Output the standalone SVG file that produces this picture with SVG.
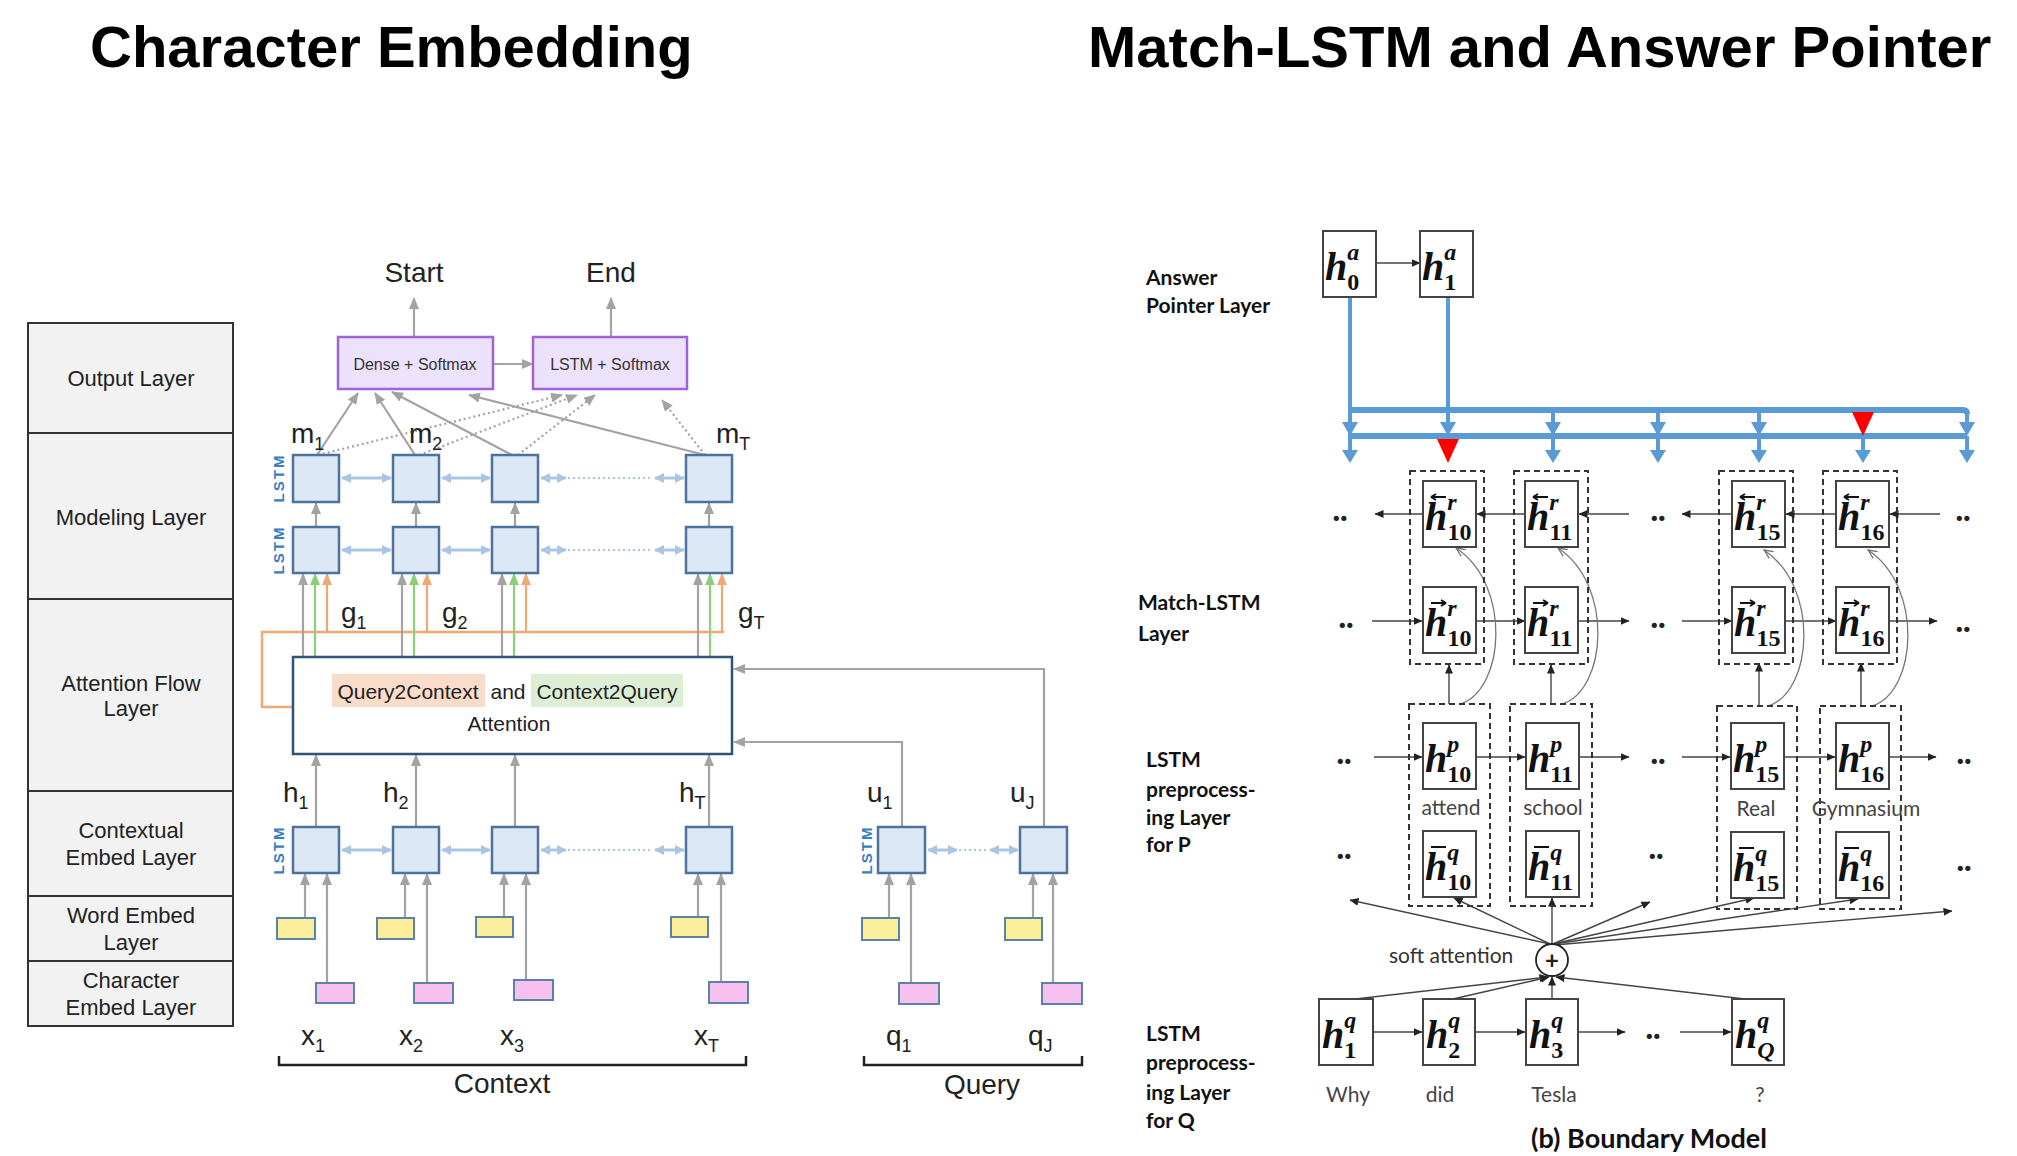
<svg xmlns="http://www.w3.org/2000/svg" width="2017" height="1156" viewBox="0 0 2017 1156">
<defs>
<style>
.title{font-family:"Liberation Sans",Arial,sans-serif;font-weight:bold;font-size:58px;fill:#000}
.lay{fill:#f2f2f2;stroke:#333;stroke-width:2}
.lt{font-family:"Liberation Sans",Arial,sans-serif;font-size:22px;fill:#222;text-anchor:middle}
.lbl{font-family:"Liberation Sans",Arial,sans-serif;font-size:28px;fill:#222}
.sub{font-size:18px}
.lstm{fill:#dce8f6;stroke:#4d739d;stroke-width:2.5}
.lstmt{font-family:"Liberation Sans",Arial,sans-serif;font-size:15px;font-weight:bold;fill:#3a7dc0;letter-spacing:2px;text-anchor:middle}
.sm{fill:#ece2fb;stroke:#a361da;stroke-width:2.5}
.smt{font-family:"Liberation Sans",Arial,sans-serif;font-size:16px;fill:#333;text-anchor:middle}
.yel{fill:#fbee9a;stroke:#5d82a8;stroke-width:2}
.pink{fill:#f8c0ef;stroke:#5d82a8;stroke-width:2}
.ga{stroke:#a3a3a3;stroke-width:2.2;fill:none;marker-end:url(#ag)}
.gd{stroke:#a3a3a3;stroke-width:2.2;fill:none;stroke-dasharray:2 3;marker-end:url(#ag)}
.gn{stroke:#8ccf78;stroke-width:2.2;fill:none;marker-end:url(#agn)}
.or{stroke:#f3a775;stroke-width:2.2;fill:none;marker-end:url(#aor)}
.lb{stroke:#a9c6e4;stroke-width:3;fill:none;marker-start:url(#alb);marker-end:url(#alb)}
.lbd{stroke:#a9c6e4;stroke-width:2;fill:none;stroke-dasharray:2 3}
.att{fill:#fff;stroke:#2f5377;stroke-width:2.5}
.at{font-family:"Liberation Sans",Arial,sans-serif;font-size:21px;fill:#222;text-anchor:middle}
.br{fill:none;stroke:#222;stroke-width:2.5}
.rl{font-family:Lato,"Open Sans",sans-serif;font-weight:bold;font-size:21px;fill:#111}
.rw{font-family:Lato,"Open Sans",sans-serif;font-size:21px;fill:#444;text-anchor:middle}
.bx{fill:#fff;stroke:#444;stroke-width:2}
.dsh{fill:none;stroke:#333;stroke-width:2;stroke-dasharray:6 4}
.mh{font-family:"Liberation Serif","Times New Roman",serif;font-weight:bold;font-style:italic;font-size:40px;fill:#111}
.s{font-size:24px}
.d{font-size:24px;font-style:normal}
.acc{stroke:#111;stroke-width:2;fill:none}
.bk{stroke:#444;stroke-width:1.4;fill:none;marker-end:url(#ak)}
.cv{stroke:#777;stroke-width:1.3;fill:none;marker-end:url(#aop)}
.dots{font-family:Lato,"Open Sans",sans-serif;font-weight:900;font-size:32px;fill:#222;text-anchor:middle}
.bl{stroke:#5b9bd5;stroke-width:4;fill:none}
.blb{stroke:#5b9bd5;stroke-width:6;fill:none}
.bh{fill:#5b9bd5}
.rh{fill:#ff0000}
</style>
<marker id="ag" viewBox="0 0 12 10" refX="11" refY="5" markerWidth="12" markerHeight="10" markerUnits="userSpaceOnUse" orient="auto"><path d="M0,0 L12,5 L0,10 z" fill="#a3a3a3"/></marker>
<marker id="agn" viewBox="0 0 12 10" refX="11" refY="5" markerWidth="12" markerHeight="10" markerUnits="userSpaceOnUse" orient="auto"><path d="M0,0 L12,5 L0,10 z" fill="#8ccf78"/></marker>
<marker id="aor" viewBox="0 0 12 10" refX="11" refY="5" markerWidth="12" markerHeight="10" markerUnits="userSpaceOnUse" orient="auto"><path d="M0,0 L12,5 L0,10 z" fill="#f3a775"/></marker>
<marker id="alb" viewBox="0 0 10 10" refX="9" refY="5" markerWidth="10" markerHeight="10" markerUnits="userSpaceOnUse" orient="auto-start-reverse"><path d="M0,0 L10,5 L0,10 z" fill="#a9c6e4"/></marker>
<marker id="ak" viewBox="0 0 9 8" refX="8.5" refY="4" markerWidth="9" markerHeight="8" markerUnits="userSpaceOnUse" orient="auto"><path d="M0,0 L9,4 L0,8 z" fill="#222"/></marker>
<marker id="aop" viewBox="0 0 10 10" refX="9" refY="5" markerWidth="10" markerHeight="10" markerUnits="userSpaceOnUse" orient="auto"><path d="M0,1 L9,5 L0,9" fill="none" stroke="#777" stroke-width="1.3"/></marker>
</defs>
<rect width="2017" height="1156" fill="#fff"/>

<text class="title" x="90" y="67">Character Embedding</text>
<text class="title" x="1088" y="67">Match-LSTM and Answer Pointer</text>

<!-- ===== Left: layer labels ===== -->
<g id="layer-output"><rect class="lay" x="28" y="323" width="205" height="110"/><text class="lt" x="131" y="386">Output Layer</text></g>
<g id="layer-modeling"><rect class="lay" x="28" y="433" width="205" height="166"/><text class="lt" x="131" y="525">Modeling Layer</text></g>
<g id="layer-attention"><rect class="lay" x="28" y="599" width="205" height="192"/><text class="lt" x="131" y="691">Attention Flow</text><text class="lt" x="131" y="716">Layer</text></g>
<g id="layer-contextual"><rect class="lay" x="28" y="791" width="205" height="105"/><text class="lt" x="131" y="838">Contextual</text><text class="lt" x="131" y="865">Embed Layer</text></g>
<g id="layer-word"><rect class="lay" x="28" y="896" width="205" height="65"/><text class="lt" x="131" y="923">Word Embed</text><text class="lt" x="131" y="950">Layer</text></g>
<g id="layer-char"><rect class="lay" x="28" y="961" width="205" height="65"/><text class="lt" x="131" y="988">Character</text><text class="lt" x="131" y="1015">Embed Layer</text></g>

<!-- ===== Left: connectors ===== -->
<g id="left-connectors">
<line class="ga" x1="414" y1="337" x2="414" y2="298"/>
<line class="ga" x1="611" y1="337" x2="611" y2="298"/>
<line class="ga" x1="493" y1="364" x2="533" y2="364"/>
<line class="ga" x1="317" y1="455" x2="358" y2="393"/>
<line class="ga" x1="415" y1="455" x2="375" y2="393"/>
<line class="ga" x1="512" y1="455" x2="392" y2="392"/>
<line class="ga" x1="705" y1="455" x2="469" y2="395"/>
<line class="gd" x1="318" y1="455" x2="562" y2="395"/>
<line class="gd" x1="419" y1="455" x2="577" y2="395"/>
<line class="gd" x1="518" y1="455" x2="595" y2="395"/>
<line class="gd" x1="705" y1="455" x2="662" y2="400"/>
<line class="ga" x1="316" y1="527" x2="316" y2="503"/>
<line class="ga" x1="416" y1="527" x2="416" y2="503"/>
<line class="ga" x1="515" y1="527" x2="515" y2="503"/>
<line class="ga" x1="709" y1="527" x2="709" y2="503"/>
<line class="lb" x1="342" y1="478" x2="391" y2="478"/>
<line class="lb" x1="442" y1="478" x2="490" y2="478"/>
<line class="lb" x1="541" y1="478" x2="566" y2="478"/>
<line class="lbd" x1="568" y1="478" x2="652" y2="478"/>
<line class="lb" x1="655" y1="478" x2="684" y2="478"/>
<line class="lb" x1="342" y1="550" x2="391" y2="550"/>
<line class="lb" x1="442" y1="550" x2="490" y2="550"/>
<line class="lb" x1="541" y1="550" x2="566" y2="550"/>
<line class="lbd" x1="568" y1="550" x2="652" y2="550"/>
<line class="lb" x1="655" y1="550" x2="684" y2="550"/>
<line class="lb" x1="342" y1="850" x2="391" y2="850"/>
<line class="lb" x1="442" y1="850" x2="490" y2="850"/>
<line class="lb" x1="541" y1="850" x2="566" y2="850"/>
<line class="lbd" x1="568" y1="850" x2="652" y2="850"/>
<line class="lb" x1="655" y1="850" x2="684" y2="850"/>
<line class="lb" x1="928" y1="850" x2="957" y2="850"/>
<line class="lbd" x1="959" y1="850" x2="988" y2="850"/>
<line class="lb" x1="990" y1="850" x2="1018" y2="850"/>
<path d="M724,632 H262 V707 H293" fill="none" stroke="#f3a775" stroke-width="2.5"/>
<line class="or" x1="327" y1="632" x2="327" y2="574"/>
<line class="or" x1="427" y1="632" x2="427" y2="574"/>
<line class="or" x1="526" y1="632" x2="526" y2="574"/>
<line class="or" x1="722" y1="632" x2="722" y2="574"/>
<line class="ga" x1="303" y1="657" x2="303" y2="574"/>
<line class="ga" x1="402" y1="657" x2="402" y2="574"/>
<line class="ga" x1="502" y1="657" x2="502" y2="574"/>
<line class="ga" x1="698" y1="657" x2="698" y2="574"/>
<line class="gn" x1="315" y1="657" x2="315" y2="574"/>
<line class="gn" x1="414" y1="657" x2="414" y2="574"/>
<line class="gn" x1="514" y1="657" x2="514" y2="574"/>
<line class="gn" x1="710" y1="657" x2="710" y2="574"/>
<line class="ga" x1="316" y1="827" x2="316" y2="755"/>
<line class="ga" x1="416" y1="827" x2="416" y2="755"/>
<line class="ga" x1="515" y1="827" x2="515" y2="755"/>
<line class="ga" x1="709" y1="827" x2="709" y2="755"/>
<path class="ga" d="M902,827 V742 H734"/>
<path class="ga" d="M1044,827 V669 H734"/>
<line class="ga" x1="305" y1="918" x2="305" y2="874"/>
<line class="ga" x1="405" y1="918" x2="405" y2="874"/>
<line class="ga" x1="504" y1="917" x2="504" y2="874"/>
<line class="ga" x1="698" y1="917" x2="698" y2="874"/>
<line class="ga" x1="889" y1="918" x2="889" y2="874"/>
<line class="ga" x1="1033" y1="918" x2="1033" y2="874"/>
<line class="ga" x1="327" y1="983" x2="327" y2="874"/>
<line class="ga" x1="427" y1="983" x2="427" y2="874"/>
<line class="ga" x1="526" y1="980" x2="526" y2="874"/>
<line class="ga" x1="721" y1="982" x2="721" y2="874"/>
<line class="ga" x1="911" y1="983" x2="911" y2="874"/>
<line class="ga" x1="1053" y1="983" x2="1053" y2="874"/>
</g>

<!-- ===== Left: nodes ===== -->
<text class="lbl" x="414" y="282" text-anchor="middle">Start</text>
<text class="lbl" x="611" y="282" text-anchor="middle">End</text>
<g id="dense-softmax"><rect class="sm" x="338" y="337" width="155" height="52"/><text class="smt" x="415" y="370">Dense + Softmax</text></g>
<g id="lstm-softmax"><rect class="sm" x="533" y="337" width="154" height="52"/><text class="smt" x="610" y="370">LSTM + Softmax</text></g>

<g id="modeling-upper">
<rect class="lstm" x="293" y="455" width="46" height="47"/><rect class="lstm" x="393" y="455" width="46" height="47"/><rect class="lstm" x="492" y="455" width="46" height="47"/><rect class="lstm" x="686" y="455" width="46" height="47"/>
<text class="lstmt" transform="translate(284,478) rotate(-90)">LSTM</text>
</g>
<g id="modeling-lower">
<rect class="lstm" x="293" y="527" width="46" height="46"/><rect class="lstm" x="393" y="527" width="46" height="46"/><rect class="lstm" x="492" y="527" width="46" height="46"/><rect class="lstm" x="686" y="527" width="46" height="46"/>
<text class="lstmt" transform="translate(284,550) rotate(-90)">LSTM</text>
</g>
<text class="lbl" x="291" y="443">m<tspan class="sub" dy="7">1</tspan></text>
<text class="lbl" x="409" y="443">m<tspan class="sub" dy="7">2</tspan></text>
<text class="lbl" x="716" y="443">m<tspan class="sub" dy="7">T</tspan></text>
<text class="lbl" x="341" y="622">g<tspan class="sub" dy="7">1</tspan></text>
<text class="lbl" x="442" y="622">g<tspan class="sub" dy="7">2</tspan></text>
<text class="lbl" x="738" y="622">g<tspan class="sub" dy="7">T</tspan></text>

<g id="attention">
<rect class="att" x="293" y="657" width="439" height="97"/>
<rect x="332" y="674" width="153" height="33" fill="#fadccb"/>
<rect x="531" y="674" width="152" height="33" fill="#ddeed5"/>
<text class="at" x="408" y="699">Query2Context</text>
<text class="at" x="508" y="699">and</text>
<text class="at" x="607" y="699">Context2Query</text>
<text class="at" x="509" y="731">Attention</text>
</g>

<g id="contextual">
<rect class="lstm" x="293" y="827" width="46" height="46"/><rect class="lstm" x="393" y="827" width="46" height="46"/><rect class="lstm" x="492" y="827" width="46" height="46"/><rect class="lstm" x="686" y="827" width="46" height="46"/>
<text class="lstmt" transform="translate(284,850) rotate(-90)">LSTM</text>
</g>
<g id="query-contextual">
<rect class="lstm" x="878" y="827" width="47" height="46"/><rect class="lstm" x="1020" y="827" width="47" height="46"/>
<text class="lstmt" transform="translate(872,850) rotate(-90)">LSTM</text>
</g>
<text class="lbl" x="283" y="802">h<tspan class="sub" dy="7">1</tspan></text>
<text class="lbl" x="383" y="802">h<tspan class="sub" dy="7">2</tspan></text>
<text class="lbl" x="679" y="802">h<tspan class="sub" dy="7">T</tspan></text>
<text class="lbl" x="867" y="802">u<tspan class="sub" dy="7">1</tspan></text>
<text class="lbl" x="1010" y="802">u<tspan class="sub" dy="7">J</tspan></text>

<g id="word-embed">
<rect class="yel" x="277" y="918" width="38" height="21"/><rect class="yel" x="377" y="918" width="37" height="21"/><rect class="yel" x="476" y="917" width="37" height="20"/><rect class="yel" x="671" y="917" width="37" height="20"/>
<rect class="yel" x="862" y="918" width="37" height="22"/><rect class="yel" x="1005" y="918" width="37" height="22"/>
</g>
<g id="char-embed">
<rect class="pink" x="316" y="983" width="38" height="20"/><rect class="pink" x="414" y="983" width="39" height="20"/><rect class="pink" x="514" y="980" width="39" height="20"/><rect class="pink" x="709" y="982" width="39" height="21"/>
<rect class="pink" x="899" y="983" width="40" height="21"/><rect class="pink" x="1042" y="983" width="40" height="21"/>
</g>
<text class="lbl" x="301" y="1045" font-size="30">x<tspan class="sub" dy="7">1</tspan></text>
<text class="lbl" x="399" y="1045" font-size="30">x<tspan class="sub" dy="7">2</tspan></text>
<text class="lbl" x="500" y="1045" font-size="30">x<tspan class="sub" dy="7">3</tspan></text>
<text class="lbl" x="694" y="1045" font-size="30">x<tspan class="sub" dy="7">T</tspan></text>
<text class="lbl" x="886" y="1045">q<tspan class="sub" dy="7">1</tspan></text>
<text class="lbl" x="1028" y="1045">q<tspan class="sub" dy="7">J</tspan></text>
<g id="context-bracket"><path class="br" d="M279,1056 V1065 H746 V1056"/><text class="lbl" x="502" y="1093" text-anchor="middle" font-size="25">Context</text></g>
<g id="query-bracket"><path class="br" d="M864,1056 V1065 H1082 V1056"/><text class="lbl" x="982" y="1094" text-anchor="middle" font-size="25">Query</text></g>

<!-- ===== Right: labels ===== -->
<g id="right-labels">
<text class="rl" x="1146" y="285">Answer</text><text class="rl" x="1146" y="313">Pointer Layer</text>
<text class="rl" x="1138" y="610">Match-LSTM</text><text class="rl" x="1138" y="641">Layer</text>
<text class="rl" x="1146" y="767">LSTM</text><text class="rl" x="1146" y="797">preprocess-</text><text class="rl" x="1146" y="825">ing Layer</text><text class="rl" x="1146" y="852">for P</text>
<text class="rl" x="1146" y="1041">LSTM</text><text class="rl" x="1146" y="1070">preprocess-</text><text class="rl" x="1146" y="1100">ing Layer</text><text class="rl" x="1146" y="1128">for Q</text>
</g>

<!-- ===== Right: connectors ===== -->
<g id="right-connectors">
<line class="bl" x1="1350" y1="297" x2="1350" y2="424"/>
<line class="bl" x1="1448" y1="297" x2="1448" y2="424"/>
<path class="blb" d="M1348,410 H1963 Q1967,410 1967,414"/>
<line class="blb" x1="1348" y1="436" x2="1967" y2="436"/>
<line class="bl" x1="1553" y1="410" x2="1553" y2="424"/>
<line class="bl" x1="1658" y1="410" x2="1658" y2="424"/>
<line class="bl" x1="1759" y1="410" x2="1759" y2="424"/>
<line class="bl" x1="1967" y1="410" x2="1967" y2="424"/>
<polygon class="bh" points="1342,422 1358,422 1350,436"/>
<polygon class="bh" points="1440,422 1456,422 1448,436"/>
<polygon class="bh" points="1545,422 1561,422 1553,436"/>
<polygon class="bh" points="1650,422 1666,422 1658,436"/>
<polygon class="bh" points="1751,422 1767,422 1759,436"/>
<polygon class="rh" points="1852,412 1874,412 1863,436"/>
<polygon class="bh" points="1959,422 1975,422 1967,436"/>
<line class="bl" x1="1350" y1="436" x2="1350" y2="452"/>
<line class="bl" x1="1553" y1="436" x2="1553" y2="452"/>
<line class="bl" x1="1658" y1="436" x2="1658" y2="452"/>
<line class="bl" x1="1759" y1="436" x2="1759" y2="452"/>
<line class="bl" x1="1863" y1="436" x2="1863" y2="452"/>
<line class="bl" x1="1967" y1="436" x2="1967" y2="452"/>
<polygon class="bh" points="1342,450 1358,450 1350,463"/>
<polygon class="rh" points="1437,439 1459,439 1448,463"/>
<polygon class="bh" points="1545,450 1561,450 1553,463"/>
<polygon class="bh" points="1650,450 1666,450 1658,463"/>
<polygon class="bh" points="1751,450 1767,450 1759,463"/>
<polygon class="bh" points="1855,450 1871,450 1863,463"/>
<polygon class="bh" points="1959,450 1975,450 1967,463"/>
<line class="bk" x1="1376" y1="263" x2="1420" y2="263"/>
<line class="bk" x1="1422" y1="514" x2="1375" y2="514"/>
<line class="bk" x1="1525" y1="514" x2="1477" y2="514"/>
<line class="bk" x1="1629" y1="514" x2="1579" y2="514"/>
<line class="bk" x1="1732" y1="514" x2="1682" y2="514"/>
<line class="bk" x1="1836" y1="514" x2="1786" y2="514"/>
<line class="bk" x1="1940" y1="514" x2="1890" y2="514"/>
<line class="bk" x1="1372" y1="621" x2="1422" y2="621"/>
<line class="bk" x1="1477" y1="621" x2="1525" y2="621"/>
<line class="bk" x1="1579" y1="621" x2="1629" y2="621"/>
<line class="bk" x1="1682" y1="621" x2="1732" y2="621"/>
<line class="bk" x1="1786" y1="621" x2="1836" y2="621"/>
<line class="bk" x1="1890" y1="621" x2="1937" y2="621"/>
<line class="bk" x1="1374" y1="757" x2="1422" y2="757"/>
<line class="bk" x1="1477" y1="757" x2="1525" y2="757"/>
<line class="bk" x1="1579" y1="757" x2="1629" y2="757"/>
<line class="bk" x1="1682" y1="757" x2="1730" y2="757"/>
<line class="bk" x1="1785" y1="757" x2="1835" y2="757"/>
<line class="bk" x1="1889" y1="757" x2="1936" y2="757"/>
<line class="bk" x1="1373" y1="1032" x2="1422" y2="1032"/>
<line class="bk" x1="1476" y1="1032" x2="1525" y2="1032"/>
<line class="bk" x1="1579" y1="1032" x2="1625" y2="1032"/>
<line class="bk" x1="1680" y1="1032" x2="1731" y2="1032"/>
<line class="bk" x1="1449" y1="704" x2="1449" y2="665"/>
<line class="bk" x1="1551" y1="704" x2="1551" y2="665"/>
<line class="bk" x1="1759" y1="706" x2="1759" y2="663"/>
<line class="bk" x1="1861" y1="706" x2="1861" y2="663"/>
<path class="cv" d="M1460,704 C1505,690 1512,585 1456,548"/>
<path class="cv" d="M1562,704 C1607,690 1614,585 1558,548"/>
<path class="cv" d="M1768,706 C1813,692 1820,587 1764,550"/>
<path class="cv" d="M1872,706 C1917,692 1924,587 1868,550"/>
<line class="bk" x1="1550" y1="944" x2="1350" y2="900"/>
<line class="bk" x1="1550" y1="944" x2="1454" y2="898"/>
<line class="bk" x1="1552" y1="944" x2="1552" y2="898"/>
<line class="bk" x1="1553" y1="944" x2="1650" y2="902"/>
<line class="bk" x1="1553" y1="944" x2="1754" y2="898"/>
<line class="bk" x1="1554" y1="944" x2="1858" y2="899"/>
<line class="bk" x1="1554" y1="945" x2="1952" y2="911"/>
<line class="bk" x1="1355" y1="999" x2="1548" y2="977"/>
<line class="bk" x1="1453" y1="999" x2="1549" y2="977"/>
<line class="bk" x1="1552" y1="999" x2="1552" y2="977"/>
<line class="bk" x1="1745" y1="999" x2="1556" y2="977"/>
</g>

<!-- ===== Right: nodes ===== -->
<g id="h0a"><rect class="bx" x="1323" y="231" width="53" height="66"/><text class="mh" x="1325" y="280">h<tspan class="s" dy="-20">a</tspan><tspan class="d" dx="-12" dy="30">0</tspan></text></g>
<g id="h1a"><rect class="bx" x="1420" y="231" width="53" height="66"/><text class="mh" x="1422" y="280">h<tspan class="s" dy="-20">a</tspan><tspan class="d" dx="-12" dy="30">1</tspan></text></g>

<g id="match-col-10">
<rect class="dsh" x="1410" y="471" width="74" height="193"/>
<rect class="bx" x="1423" y="481" width="53" height="66"/><text class="mh" x="1425" y="530">h<tspan class="s" dy="-20">r</tspan><tspan class="d" dx="-9" dy="30">10</tspan></text><path class="acc" d="M1431,497 H1446 M1431,497 l5,-3 M1431,497 l5,3"/>
<rect class="bx" x="1423" y="587" width="53" height="66"/><text class="mh" x="1425" y="636">h<tspan class="s" dy="-20">r</tspan><tspan class="d" dx="-9" dy="30">10</tspan></text><path class="acc" d="M1431,603 H1446 M1446,603 l-5,-3 M1446,603 l-5,3"/>
</g>
<g id="match-col-11">
<rect class="dsh" x="1514" y="471" width="74" height="193"/>
<rect class="bx" x="1525" y="481" width="53" height="66"/><text class="mh" x="1527" y="530">h<tspan class="s" dy="-20">r</tspan><tspan class="d" dx="-9" dy="30">11</tspan></text><path class="acc" d="M1533,497 H1548 M1533,497 l5,-3 M1533,497 l5,3"/>
<rect class="bx" x="1525" y="587" width="53" height="66"/><text class="mh" x="1527" y="636">h<tspan class="s" dy="-20">r</tspan><tspan class="d" dx="-9" dy="30">11</tspan></text><path class="acc" d="M1533,603 H1548 M1548,603 l-5,-3 M1548,603 l-5,3"/>
</g>
<g id="match-col-15">
<rect class="dsh" x="1719" y="471" width="74" height="193"/>
<rect class="bx" x="1732" y="481" width="53" height="66"/><text class="mh" x="1734" y="530">h<tspan class="s" dy="-20">r</tspan><tspan class="d" dx="-9" dy="30">15</tspan></text><path class="acc" d="M1740,497 H1755 M1740,497 l5,-3 M1740,497 l5,3"/>
<rect class="bx" x="1732" y="587" width="53" height="66"/><text class="mh" x="1734" y="636">h<tspan class="s" dy="-20">r</tspan><tspan class="d" dx="-9" dy="30">15</tspan></text><path class="acc" d="M1740,603 H1755 M1755,603 l-5,-3 M1755,603 l-5,3"/>
</g>
<g id="match-col-16">
<rect class="dsh" x="1823" y="471" width="74" height="193"/>
<rect class="bx" x="1836" y="481" width="53" height="66"/><text class="mh" x="1838" y="530">h<tspan class="s" dy="-20">r</tspan><tspan class="d" dx="-9" dy="30">16</tspan></text><path class="acc" d="M1844,497 H1859 M1844,497 l5,-3 M1844,497 l5,3"/>
<rect class="bx" x="1836" y="587" width="53" height="66"/><text class="mh" x="1838" y="636">h<tspan class="s" dy="-20">r</tspan><tspan class="d" dx="-9" dy="30">16</tspan></text><path class="acc" d="M1844,603 H1859 M1859,603 l-5,-3 M1859,603 l-5,3"/>
</g>

<g id="p-col-10">
<rect class="dsh" x="1409" y="704" width="81" height="202"/>
<rect class="bx" x="1423" y="723" width="53" height="66"/><text class="mh" x="1425" y="772">h<tspan class="s" dy="-20">p</tspan><tspan class="d" dx="-12" dy="30">10</tspan></text>
<text class="rw" x="1451" y="815">attend</text>
<rect class="bx" x="1423" y="831" width="53" height="66"/><text class="mh" x="1425" y="880">h<tspan class="s" dy="-20">q</tspan><tspan class="d" dx="-12" dy="30">10</tspan></text><path class="acc" d="M1431,847 H1446"/>
</g>
<g id="p-col-11">
<rect class="dsh" x="1510" y="704" width="82" height="202"/>
<rect class="bx" x="1526" y="723" width="53" height="66"/><text class="mh" x="1528" y="772">h<tspan class="s" dy="-20">p</tspan><tspan class="d" dx="-12" dy="30">11</tspan></text>
<text class="rw" x="1553" y="815">school</text>
<rect class="bx" x="1526" y="831" width="53" height="66"/><text class="mh" x="1528" y="880">h<tspan class="s" dy="-20">q</tspan><tspan class="d" dx="-12" dy="30">11</tspan></text><path class="acc" d="M1534,847 H1549"/>
</g>
<g id="p-col-15">
<rect class="dsh" x="1717" y="706" width="80" height="203"/>
<rect class="bx" x="1731" y="723" width="53" height="66"/><text class="mh" x="1733" y="772">h<tspan class="s" dy="-20">p</tspan><tspan class="d" dx="-12" dy="30">15</tspan></text>
<text class="rw" x="1756" y="816">Real</text>
<rect class="bx" x="1731" y="832" width="53" height="66"/><text class="mh" x="1733" y="881">h<tspan class="s" dy="-20">q</tspan><tspan class="d" dx="-12" dy="30">15</tspan></text><path class="acc" d="M1739,848 H1754"/>
</g>
<g id="p-col-16">
<rect class="dsh" x="1820" y="706" width="81" height="203"/>
<rect class="bx" x="1836" y="723" width="53" height="66"/><text class="mh" x="1838" y="772">h<tspan class="s" dy="-20">p</tspan><tspan class="d" dx="-12" dy="30">16</tspan></text>
<text class="rw" x="1866" y="816">Gymnasium</text>
<rect class="bx" x="1836" y="832" width="53" height="66"/><text class="mh" x="1838" y="881">h<tspan class="s" dy="-20">q</tspan><tspan class="d" dx="-12" dy="30">16</tspan></text><path class="acc" d="M1844,848 H1859"/>
</g>

<g id="dots">
<text class="dots" x="1340" y="521">..</text><text class="dots" x="1658" y="521">..</text><text class="dots" x="1963" y="521">..</text>
<text class="dots" x="1346" y="628">..</text><text class="dots" x="1658" y="628">..</text><text class="dots" x="1963" y="632">..</text>
<text class="dots" x="1344" y="764">..</text><text class="dots" x="1658" y="764">..</text><text class="dots" x="1964" y="764">..</text>
<text class="dots" x="1344" y="859">..</text><text class="dots" x="1656" y="859">..</text><text class="dots" x="1964" y="871">..</text>
<text class="dots" x="1653" y="1039">..</text>
</g>

<g id="soft-attention">
<circle cx="1552" cy="960" r="16" fill="#fff" stroke="#222" stroke-width="1.8"/>
<text x="1552" y="969" font-family="Lato,'Open Sans',sans-serif" font-size="24" font-weight="bold" fill="#222" text-anchor="middle">+</text>
<text x="1389" y="963" font-family="Lato,'Open Sans',sans-serif" font-size="21" fill="#333">soft attention</text>
</g>

<g id="q-row">
<rect class="bx" x="1319" y="999" width="54" height="66"/><text class="mh" x="1322" y="1048">h<tspan class="s" dy="-20">q</tspan><tspan class="d" dx="-12" dy="30">1</tspan></text>
<rect class="bx" x="1423" y="999" width="52" height="66"/><text class="mh" x="1426" y="1048">h<tspan class="s" dy="-20">q</tspan><tspan class="d" dx="-12" dy="30">2</tspan></text>
<rect class="bx" x="1526" y="999" width="52" height="66"/><text class="mh" x="1529" y="1048">h<tspan class="s" dy="-20">q</tspan><tspan class="d" dx="-12" dy="30">3</tspan></text>
<rect class="bx" x="1732" y="999" width="52" height="66"/><text class="mh" x="1735" y="1048">h<tspan class="s" dy="-20">q</tspan><tspan class="s" dx="-12" dy="30">Q</tspan></text>
<text class="rw" x="1348" y="1102">Why</text>
<text class="rw" x="1440" y="1102">did</text>
<text class="rw" x="1554" y="1102">Tesla</text>
<text class="rw" x="1760" y="1102">?</text>
</g>
<text x="1649" y="1148" font-family="Lato,'Open Sans',sans-serif" font-size="27" font-weight="bold" fill="#111" text-anchor="middle">(b) Boundary Model</text>
</svg>
